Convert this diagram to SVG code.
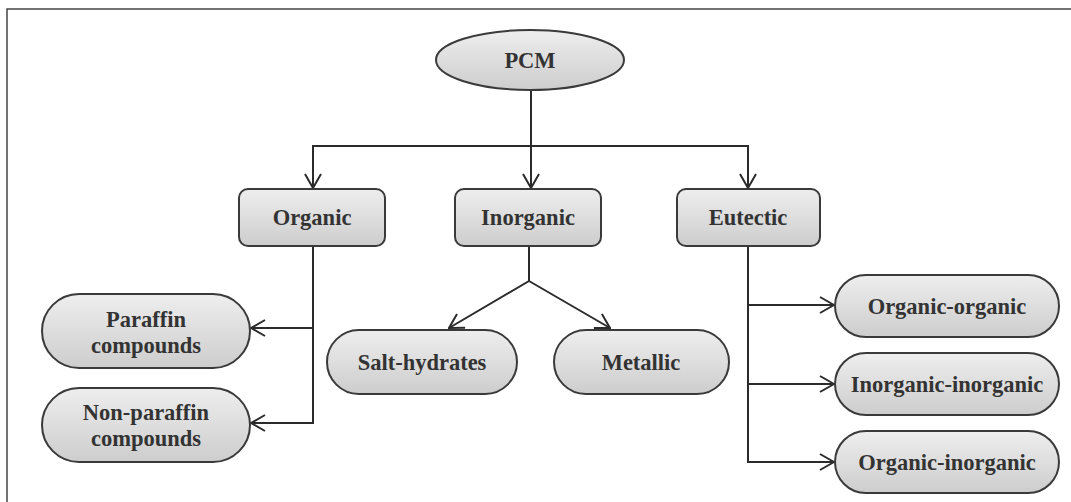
<svg xmlns="http://www.w3.org/2000/svg" width="1071" height="502" viewBox="0 0 1071 502">
<defs>
<linearGradient id="g" x1="0" y1="0" x2="0" y2="1">
<stop offset="0" stop-color="#eeeeee"/>
<stop offset="1" stop-color="#cdcdcd"/>
</linearGradient>
<marker id="a" viewBox="0 0 16 18" refX="15" refY="9" markerWidth="16" markerHeight="18" markerUnits="userSpaceOnUse" orient="auto">
<path d="M1,1 L15,9 L1,17" fill="none" stroke="#2b2b2b" stroke-width="2"/>
</marker>
<style>
.n{fill:url(#g);stroke:#3a3a3a;stroke-width:2}
.t{font-family:"Liberation Serif","Times New Roman",serif;font-weight:bold;font-size:22.5px;fill:#333;text-anchor:middle}
.c{fill:none;stroke:#2b2b2b;stroke-width:2}
</style>
</defs>
<rect width="1071" height="502" fill="#fff"/>
<path d="M7,502 V9 H1071" fill="none" stroke="#444" stroke-width="1.5"/>
<g id="connectors">
<path class="c" d="M531,90 V146"/>
<path class="c" d="M313,188 V146 H748 V188" marker-end="url(#a)"/>
<path class="c" d="M313,146 V188" marker-end="url(#a)"/>
<path class="c" d="M531,146 V188" marker-end="url(#a)"/>
<path class="c" d="M313,246 V423 H251" marker-end="url(#a)"/>
<path class="c" d="M313,328 H251" marker-end="url(#a)"/>
<path class="c" d="M529,246 V281 L449,328" marker-end="url(#a)"/>
<path class="c" d="M529,281 L610,328" marker-end="url(#a)"/>
<path class="c" d="M748,246 V462 H834" marker-end="url(#a)"/>
<path class="c" d="M748,305 H834" marker-end="url(#a)"/>
<path class="c" d="M748,384 H834" marker-end="url(#a)"/>
</g>
<g id="pcm"><ellipse class="n" cx="530" cy="60" rx="94" ry="30"/><text class="t" x="530" y="68">PCM</text></g>
<g id="organic"><rect class="n" x="239" y="189" width="146" height="57" rx="9"/><text class="t" x="312" y="225">Organic</text></g>
<g id="inorganic"><rect class="n" x="455" y="189" width="146" height="57" rx="9"/><text class="t" x="528" y="225">Inorganic</text></g>
<g id="eutectic"><rect class="n" x="677" y="189" width="143" height="57" rx="9"/><text class="t" x="748" y="225">Eutectic</text></g>
<g id="paraffin"><rect class="n" x="42" y="294" width="208" height="74" rx="37"/><text class="t" x="146" y="327">Paraffin</text><text class="t" x="146" y="353">compounds</text></g>
<g id="nonparaffin"><rect class="n" x="42" y="388" width="208" height="74" rx="37"/><text class="t" x="146" y="420">Non-paraffin</text><text class="t" x="146" y="446">compounds</text></g>
<g id="salt"><rect class="n" x="327" y="330" width="190" height="64" rx="32"/><text class="t" x="422" y="370">Salt-hydrates</text></g>
<g id="metallic"><rect class="n" x="554" y="330" width="175" height="64" rx="32"/><text class="t" x="641" y="370">Metallic</text></g>
<g id="oo"><rect class="n" x="835" y="275" width="224" height="62" rx="31"/><text class="t" x="947" y="314">Organic-organic</text></g>
<g id="ii"><rect class="n" x="835" y="353" width="224" height="62" rx="31"/><text class="t" x="947" y="392">Inorganic-inorganic</text></g>
<g id="oi"><rect class="n" x="835" y="431" width="224" height="62" rx="31"/><text class="t" x="947" y="470">Organic-inorganic</text></g>
</svg>
